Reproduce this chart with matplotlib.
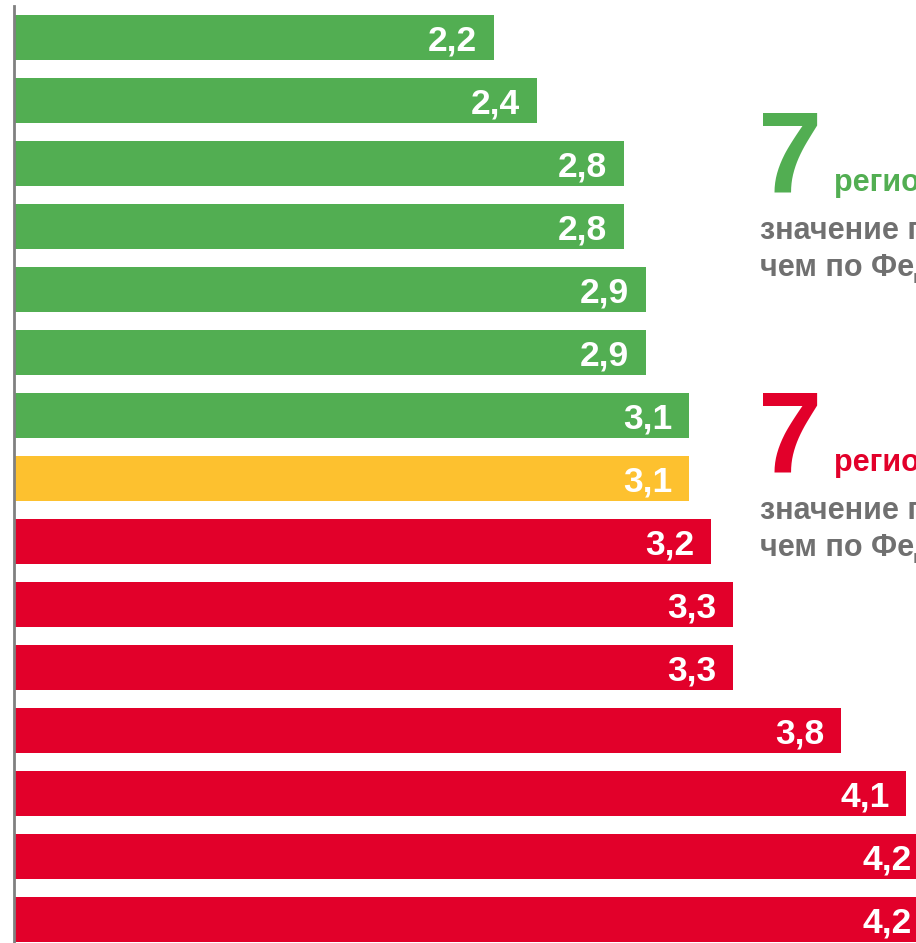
#!/usr/bin/env python3

import matplotlib

matplotlib.use("Agg")

import matplotlib.pyplot as plt

plt.rcParams["font.family"] = ["Liberation Sans", "DejaVu Sans"]
plt.rcParams["font.weight"] = "bold"

VALUES = [2.2, 2.4, 2.8, 2.8, 2.9, 2.9, 3.1, 3.1, 3.2, 3.3, 3.3, 3.8, 4.1, 4.2, 4.2]
GROUPS = ["low"] * 7 + ["federal"] + ["high"] * 7
LABELS = [f"{v:.1f}".replace(".", ",") for v in VALUES]

GROUP_COLORS = {"low": "#52AE52", "federal": "#FDC12F", "high": "#E2002A"}
GRAY_TEXT = "#707070"

LOW_COUNT = "7"
HIGH_COUNT = "7"
COUNT_WORD = "регионов"
LOW_NOTE = ["значение показателя ниже,", "чем по Федерации"]
HIGH_NOTE = ["значение показателя выше,", "чем по Федерации"]


def main() -> None:
    fig = plt.figure(figsize=(9.16, 9.43), dpi=100)
    ax = fig.add_axes([0, 0, 1, 1])

    px_per_unit = 217.3
    pitch = 63.0
    positions = list(range(len(VALUES)))
    colors = [GROUP_COLORS[g] for g in GROUPS]

    ax.barh(positions, VALUES, height=45 / pitch, color=colors, zorder=2)

    ax.set_xlim(-15.5 / px_per_unit, (916 - 15.5) / px_per_unit)
    ax.set_ylim((943 - 38) / pitch, -38 / pitch)

    for pos, value, label in zip(positions, VALUES, LABELS):
        ax.annotate(
            label,
            xy=(value, pos),
            xytext=(-12, -9),
            textcoords="offset points",
            ha="right",
            va="baseline",
            color="white",
            fontsize=25.5,
            fontweight="bold",
            zorder=3,
            annotation_clip=False,
        )

    for name in ("top", "right", "bottom"):
        ax.spines[name].set_visible(False)
    ax.spines["left"].set_position(("data", -1 / px_per_unit))
    ax.spines["left"].set_bounds(-32 / pitch, (943 - 38) / pitch)
    ax.spines["left"].set_color("#808080")
    ax.spines["left"].set_linewidth(2.0)
    ax.set_xticks([])
    ax.set_yticks([])
    ax.patch.set_visible(False)

    def px(x, y):
        return x / 916, 1 - y / 943

    blocks = [
        (LOW_COUNT, LOW_NOTE, GROUP_COLORS["low"], 192),
        (HIGH_COUNT, HIGH_NOTE, GROUP_COLORS["high"], 472),
    ]
    for count, note, color, base in blocks:
        fig.text(*px(758, base), count, color=color, fontsize=83,
                 fontweight="bold", ha="left", va="baseline")
        fig.text(*px(834, base - 1), COUNT_WORD, color=color, fontsize=22,
                 fontweight="bold", ha="left", va="baseline")
        for i, line in enumerate(note):
            fig.text(*px(760, base + 47 + 37 * i), line, color=GRAY_TEXT,
                     fontsize=22, fontweight="bold", ha="left", va="baseline")

    fig.savefig("out.png", dpi=100)
    plt.close(fig)


if __name__ == "__main__":
    main()
